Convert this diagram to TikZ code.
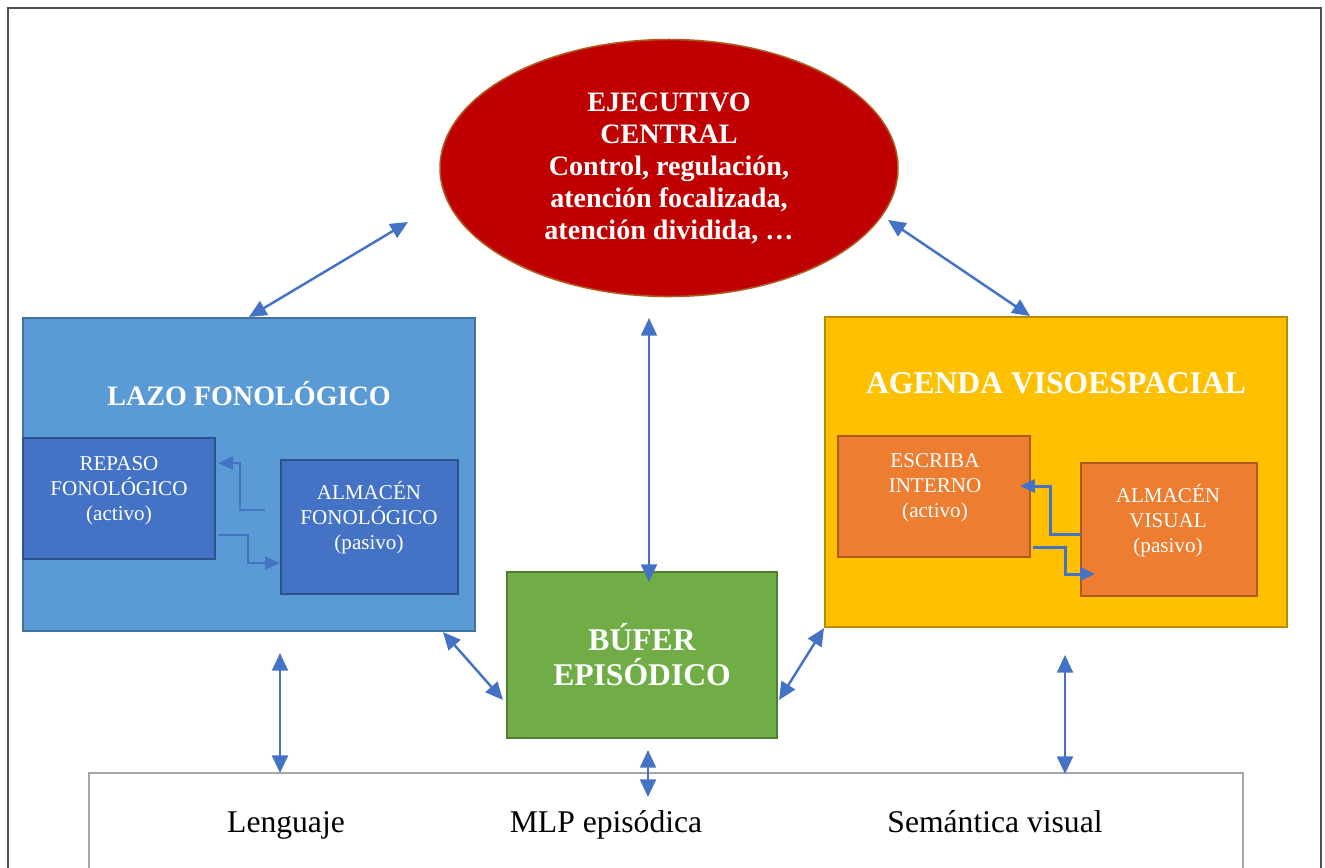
\documentclass[tikz,border=0pt]{standalone}
\usepackage{fontspec}
\setmainfont{Liberation Serif}
\usetikzlibrary{arrows.meta,shapes.geometric}

\definecolor{ecred}{HTML}{C00000}
\definecolor{ecline}{HTML}{AE5A21}
\definecolor{lazofill}{HTML}{5B9BD5}
\definecolor{lazoline}{HTML}{41719C}
\definecolor{subblue}{HTML}{4472C4}
\definecolor{subblueline}{HTML}{2F528F}
\definecolor{bufgreen}{HTML}{70AD47}
\definecolor{bufline}{HTML}{507E32}
\definecolor{agyellow}{HTML}{FFC000}
\definecolor{agline}{HTML}{BC8C00}
\definecolor{suborange}{HTML}{ED7D31}
\definecolor{suborangeline}{HTML}{AE5A21}
\definecolor{lnkblue}{HTML}{4472C4}
\definecolor{framegray}{HTML}{505050}
\definecolor{mlpgray}{HTML}{A6A6A6}

\begin{document}
\begin{tikzpicture}[x=0.02cm,y=-0.02cm,
  box/.style={draw,line width=1.2pt,inner sep=0pt},
  boldtxt/.style={text=white,align=center,inner sep=0pt,font=\bfseries\fontsize{16}{18.2}\selectfont},
  bigtxt/.style={text=white,align=center,inner sep=0pt,font=\bfseries\fontsize{18}{20}\selectfont},
  subtxt/.style={text=white,align=center,inner sep=0pt,font=\fontsize{12}{14.2}\selectfont},
  mlptxt/.style={inner sep=0pt,anchor=base,font=\fontsize{18}{20}\selectfont},
  lnk/.style={lnkblue,line width=1.4pt,{Triangle[length=10pt,width=9pt]}-{Triangle[length=10pt,width=9pt]}},
  sublnk/.style={lnkblue,line width=0.9pt,-{Triangle[length=8.5pt,width=7.5pt]}}]
\useasboundingbox (0,0) rectangle (1325,867);
\clip (0,0) rectangle (1325,867);

\draw[framegray,line width=1.1pt] (8,8) rectangle (1321,920);
\node[box,draw=mlpgray,minimum width=23.08cm,minimum height=2.8cm] (mlp) at (666,843) {};
\node[mlptxt] (leng) at (286,832) {Lenguaje};
\node[mlptxt] (mlpepi) at (606,832) {MLP episódica};
\node[mlptxt] (semvis) at (995,832) {Semántica visual};

\node[box,ellipse,draw=ecline,fill=ecred,line width=0.9pt,minimum width=9.16cm,minimum height=5.14cm,boldtxt] (ejec) at (669,168) {EJECUTIVO\\CENTRAL\\Control, regulación,\\atención focalizada,\\atención dividida, …};

\node[box,draw=lazoline,fill=lazofill,minimum width=9.04cm,minimum height=6.26cm] (lazo) at (249,474.5) {};
\node[boldtxt] (lazotit) at (249,394) {LAZO FONOLÓGICO};
\node[box,draw=subblueline,fill=subblue,minimum width=3.84cm,minimum height=2.42cm] (repaso) at (119,498.5) {};
\node[subtxt] (repasotxt) at (119,491) {REPASO\\FONOLÓGICO\\(activo)};
\node[box,draw=subblueline,fill=subblue,minimum width=3.54cm,minimum height=2.68cm] (almf) at (369.5,527) {};
\node[subtxt] (almftxt) at (369,518) {ALMACÉN\\FONOLÓGICO\\(pasivo)};

\node[box,draw=agline,fill=agyellow,minimum width=9.24cm,minimum height=6.2cm] (agenda) at (1056,472) {};
\node[bigtxt] (agendatit) at (1056,383) {AGENDA VISOESPACIAL};
\node[box,draw=suborangeline,fill=suborange,minimum width=3.84cm,minimum height=2.42cm] (escriba) at (934,496.5) {};
\node[subtxt] (escribatxt) at (935,488) {ESCRIBA\\INTERNO\\(activo)};
\node[box,draw=suborangeline,fill=suborange,minimum width=3.52cm,minimum height=2.66cm] (almv) at (1169,529.5) {};
\node[subtxt] (almvtxt) at (1168,521) {ALMACÉN\\VISUAL\\(pasivo)};

\node[box,draw=bufline,fill=bufgreen,minimum width=5.4cm,minimum height=3.32cm,bigtxt] (bufer) at (642,655) {BÚFER\\EPISÓDICO};

\coordinate (ejl) at (408,222);
\coordinate (ejr) at (888,220);
\coordinate (ejb) at (649,318);
\coordinate (bft) at (649,582);
\coordinate (lzb) at (280,653);
\coordinate (lgt) at (280,773);
\coordinate (bfb) at (648,750);
\coordinate (mlt) at (648,797);
\coordinate (agb) at (1065,655);
\coordinate (svt) at (1065,774);
\draw[lnk] (lazo.north) -- (ejl);
\draw[lnk] ([xshift=-0.52cm]agenda.north) -- (ejr);
\draw[lnk] (ejb) -- (bft);
\draw[lnk] ([xshift=-0.66cm]lazo.south east) -- ([yshift=-0.9cm,xshift=-0.06cm]bufer.west);
\draw[lnk] (agenda.south west) -- ([yshift=-0.9cm,xshift=0.02cm]bufer.east);
\draw[lnk] (lzb) -- (lgt);
\draw[lnk] (bfb) -- (mlt);
\draw[lnk] (agb) -- (svt);

\coordinate (lfa) at (265,510);
\coordinate (lfb) at (218,463);
\coordinate (lfc) at (218,535);
\coordinate (lfd) at (280,563);
\draw[sublnk] (lfa) -- ++(-25,0) |- (lfb);
\draw[sublnk] (lfc) -- ++(30,0) |- (lfd);
\coordinate (vsa) at (1081,534);
\coordinate (vsb) at (1020,486);
\coordinate (vsc) at (1033,547);
\coordinate (vsd) at (1095,574);
\draw[sublnk,line width=1.7pt] (vsa) -- ++(-31,0) |- (vsb);
\draw[sublnk,line width=1.7pt] (vsc) -- ++(32,0) |- (vsd);
\end{tikzpicture}
\end{document}
